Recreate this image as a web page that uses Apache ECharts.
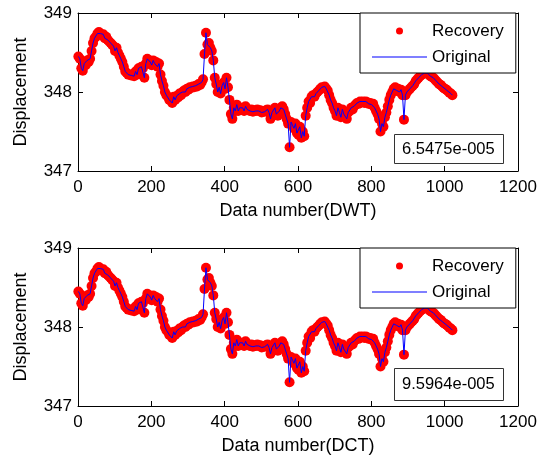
<!DOCTYPE html>
<html>
<head>
<meta charset="utf-8">
<script src="https://cdn.jsdelivr.net/npm/echarts@6/dist/echarts.min.js"></script>
<style>
  html, body { margin: 0; padding: 0; background: #fff; }
  #chart { width: 538px; height: 461px; }
</style>
</head>
<body>
<div id="chart"></div>
<script>
// sample spacing along "Data number" (values read every 4th sample)
const sampleStep = 4;
const xTicks = [0, 200, 400, 600, 800, 1000, 1200];
const yTicks = [347, 348, 349];
const errorLabels = ["6.5475e-005", "9.5964e-005"];
const xNames = ["Data number(DWT)", "Data number(DCT)"];

// original displacement signal
const original = [
  348.45, 348.42, 348.30, 348.27, 348.36, 348.34, 348.40, 348.38, 348.42, 348.52,
  348.62, 348.68, 348.70, 348.74, 348.76, 348.74, 348.72, 348.73, 348.68, 348.70,
  348.66, 348.64, 348.62, 348.60, 348.58, 348.52, 348.56, 348.50, 348.46, 348.42,
  348.38, 348.32, 348.26, 348.24, 348.22, 348.22, 348.21, 348.22, 348.20, 348.26,
  348.22, 348.30, 348.28, 348.32, 348.30, 348.18, 348.36, 348.42, 348.40, 348.38,
  348.34, 348.40, 348.36, 348.38, 348.32, 348.36, 348.22, 348.14, 348.08, 348.00,
  347.96, 347.94, 347.90, 347.92, 347.86, 347.94, 347.90, 347.95, 347.93, 347.98,
  347.96, 348.00, 348.02, 348.00, 348.04, 348.03, 348.06, 348.05, 348.07, 348.06,
  348.08, 348.07, 348.10, 348.09, 348.12, 348.16, 348.48, 348.75, 348.60, 348.62,
  348.56, 348.52, 348.40, 348.18, 348.10, 348.00, 348.06, 347.98, 348.08, 348.12,
  348.04, 348.18, 348.06, 347.90, 347.72, 347.66, 347.80, 347.76, 347.84, 347.76,
  347.80, 347.78, 347.80, 347.76, 347.82, 347.78, 347.77, 347.76, 347.78, 347.75,
  347.77, 347.76, 347.78, 347.76, 347.77, 347.74, 347.76, 347.75, 347.77, 347.78,
  347.74, 347.66, 347.74, 347.72, 347.80, 347.72, 347.70, 347.76, 347.80, 347.82,
  347.78, 347.72, 347.66, 347.60, 347.30, 347.62, 347.58, 347.54, 347.60, 347.48,
  347.46, 347.56, 347.42, 347.50, 347.44, 347.70, 347.80, 347.88, 347.86, 347.94,
  347.96, 347.94, 347.98, 348.00, 348.02, 348.04, 348.06, 348.05, 348.07, 348.04,
  348.02, 347.96, 347.90, 347.86, 347.80, 347.76, 347.70, 347.80, 347.74, 347.68,
  347.78, 347.72, 347.70, 347.66, 347.74, 347.76, 347.80, 347.78, 347.82, 347.84,
  347.86, 347.85, 347.88, 347.87, 347.88, 347.86, 347.88, 347.87, 347.85, 347.86,
  347.84, 347.85, 347.80, 347.76, 347.72, 347.66, 347.50, 347.60, 347.56, 347.68,
  347.74, 347.82, 347.90, 347.96, 348.00, 348.04, 348.06, 348.02, 348.04, 348.00,
  348.03, 347.96, 347.65, 347.96, 348.00, 348.02, 348.04, 348.06, 348.08, 348.10,
  348.14, 348.16, 348.18, 348.20, 348.22, 348.24, 348.24, 348.25, 348.24, 348.22,
  348.20, 348.19, 348.18, 348.16, 348.14, 348.12, 348.10, 348.09, 348.07, 348.05,
  348.04, 348.03, 348.01, 347.99, 347.98, 347.96
];
// recovered signals: error is ~1e-4, not visible at this scale
const recoveryDWT = original.slice();
const recoveryDCT = original.slice();

function toPairs(values) {
  return values.map(function (v, i) {
    return [1 + i * sampleStep, v];
  });
}

const font = "'Liberation Sans', Arial, sans-serif";
const gridTops = [13, 248];
const gridHeight = 158;

let chart = echarts.init(document.getElementById("chart"), null, { renderer: "canvas" });

let grids = [], xAxes = [], yAxes = [], series = [], legends = [], titles = [];

[recoveryDWT, recoveryDCT].forEach(function (recovery, k) {
  grids.push({
    left: 78, right: 20, top: gridTops[k], height: gridHeight,
    containLabel: false, outerBoundsMode: "none",
  });

  let tick = { show: true, inside: true, length: 5, lineStyle: { color: "#000", width: 1 } };
  let line = { show: true, onZero: false, lineStyle: { color: "#000", width: 1 } };

  xAxes.push({
    type: "value", gridIndex: k, position: "bottom",
    min: xTicks[0], max: xTicks[xTicks.length - 1], interval: 200,
    axisLine: line, axisTick: tick, splitLine: { show: false },
    axisLabel: {
      color: "#000", fontSize: 17, fontFamily: font, margin: 8,
      formatter: function (v) { return String(v); },
    },
    name: xNames[k], nameLocation: "middle", nameGap: 31,
    nameTextStyle: { color: "#000", fontSize: 18, fontFamily: font },
  });
  xAxes.push({
    type: "value", gridIndex: k, position: "top",
    min: xTicks[0], max: xTicks[xTicks.length - 1], interval: 200,
    axisLine: line, axisTick: tick, splitLine: { show: false },
    axisLabel: { show: false },
  });
  yAxes.push({
    type: "value", gridIndex: k, position: "left",
    min: yTicks[0], max: yTicks[yTicks.length - 1], interval: 1,
    axisLine: line, axisTick: tick, splitLine: { show: false },
    axisLabel: { color: "#000", fontSize: 17, fontFamily: font, margin: 6 },
    name: "Displacement", nameLocation: "middle", nameGap: 48,
    nameTextStyle: { color: "#000", fontSize: 18, fontFamily: font },
  });
  yAxes.push({
    type: "value", gridIndex: k, position: "right",
    min: yTicks[0], max: yTicks[yTicks.length - 1], interval: 1,
    axisLine: line, axisTick: tick, splitLine: { show: false },
    axisLabel: { show: false },
  });

  series.push({
    name: "Recovery", type: "scatter",
    xAxisIndex: k * 2, yAxisIndex: k * 2,
    data: toPairs(recovery), symbol: "circle", symbolSize: 10,
    itemStyle: { color: "#ff0000", opacity: 1 },
    silent: true, z: 2,
  });
  series.push({
    name: "Original", type: "line",
    xAxisIndex: k * 2, yAxisIndex: k * 2,
    data: toPairs(original), symbol: "none",
    lineStyle: { color: "#0000ff", width: 1 },
    itemStyle: { color: "#0000ff" },
    silent: true, z: 3, animation: false,
  });

  legends.push({
    left: 360, top: gridTops[k], orient: "vertical",
    data: [
      { name: "Recovery", icon: "circle" },
      { name: "Original", icon: "path://M0,0H55V1H0Z" },
    ],
    itemWidth: 55, itemHeight: 7, itemGap: 8,
    padding: [9, 12, 7, 12],
    backgroundColor: "#fff", borderColor: "#000", borderWidth: 1, borderRadius: 0,
    textStyle: { color: "#000", fontSize: 17, fontFamily: font, lineHeight: 18 },
    selectedMode: false, z: 10,
  });

  titles.push({
    text: errorLabels[k],
    left: 394, top: k === 0 ? 134 : 368,
    padding: k === 0 ? [7, 9, 6, 8] : [8, 9, 8, 8],
    backgroundColor: "#fff", borderColor: "#333", borderWidth: 1,
    textStyle: { color: "#000", fontSize: 16.5, fontWeight: "normal", fontFamily: font },
    z: 10,
  });
});

let option = {
  animation: false,
  backgroundColor: "#fff",
  title: titles,
  legend: legends,
  grid: grids,
  xAxis: xAxes,
  yAxis: yAxes,
  series: series,
};
chart.setOption(option);
</script>
</body>
</html>
